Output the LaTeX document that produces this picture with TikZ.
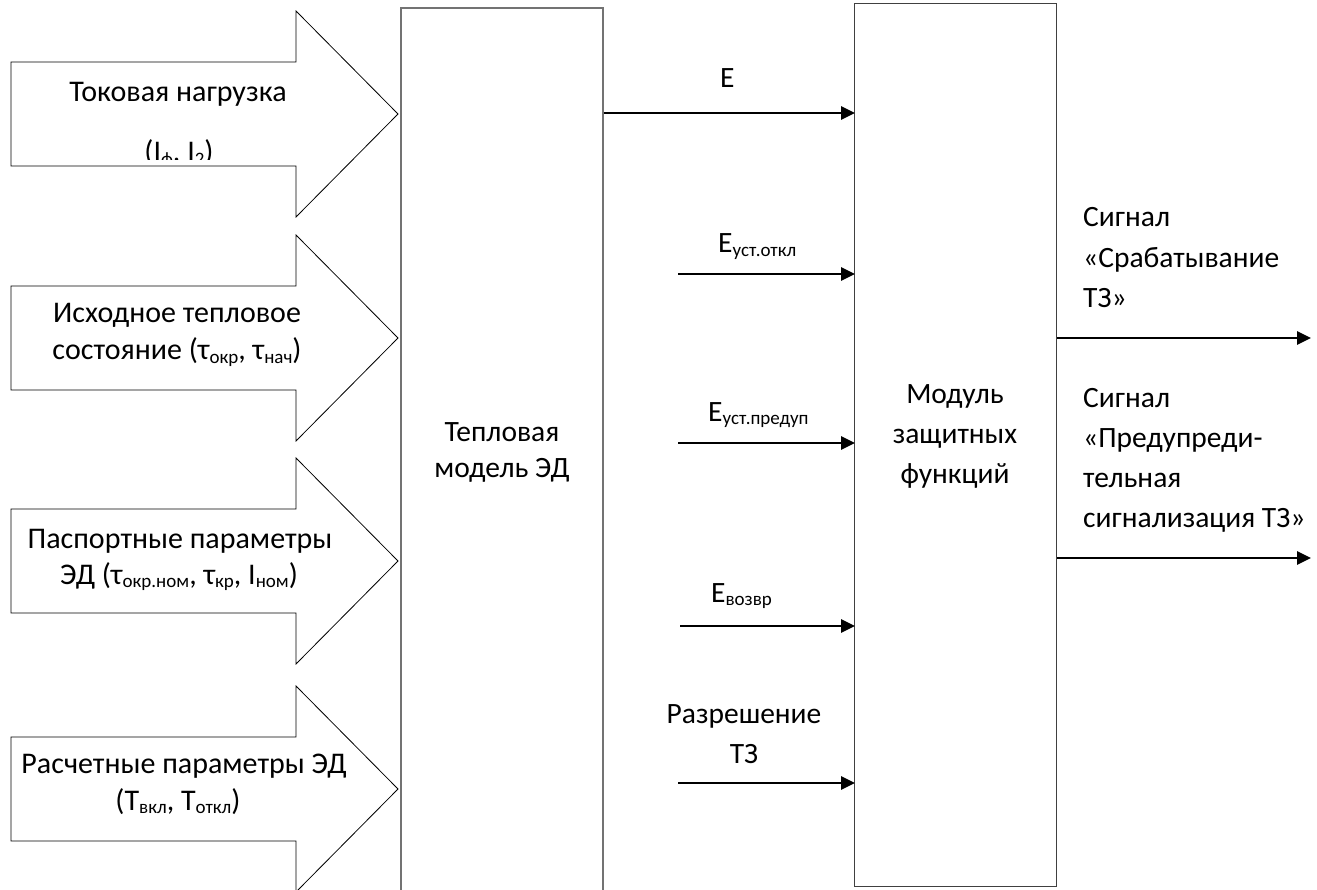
\documentclass[tikz,border=0pt]{standalone}
\usepackage{fontspec}
\setmainfont{Carlito}
\usetikzlibrary{arrows.meta}
\newcommand\lowsub[1]{\raisebox{-3.5pt}{\fontsize{19}{19}\selectfont #1}}
\tikzset{
  txt/.style={inner sep=0pt, anchor=base, font=\fontsize{29.5}{33}\selectfont},
  atxt/.style={txt, font=\fontsize{30}{34}\selectfont},
  txtw/.style={txt, anchor=base west},
  blockarrow/.style={draw=black, line width=0.8pt, fill=white},
  lbox/.style={draw=black!55, line width=1.6pt, anchor=north west, minimum width=202pt, minimum height=900pt, inner sep=0pt},
  rbox/.style={draw=black!75, line width=1pt, anchor=north west, minimum width=202pt, minimum height=883pt, inner sep=0pt},
  sig/.style={line width=2.6pt, -{Triangle[length=14pt,width=13pt]}, shorten >=-1pt}
}
\begin{document}
\begin{tikzpicture}[x=1pt,y=-1pt]
\clip (0,0) rectangle (1317,890);
\fill[white] (0,0) rectangle (1317,890);

% block arrows
\foreach \c/\n in {114/a1,338/a2,561/a3,789/a4}{
  \draw[blockarrow] (11,\c-52) -- (296,\c-52) -- (296,\c-103) -- (398,\c) coordinate (\n)
     -- (296,\c+103) -- (296,\c+52) -- (11,\c+52) -- cycle;
}

% boxes
\node[lbox] (tm) at (400,7) {};
\node[rbox] (mz) at (854,3) {};

% arrow texts
\node[atxt] (t1a) at (178,102) {Токовая нагрузка};
\begin{scope}
\clip (11,62) rectangle (296,159.5);
\node[atxt] (t1b) at (179,162) {(I\lowsub{ф}, I\lowsub{2})};
\end{scope}
\node[atxt] (t2a) at (177,323) {Исходное тепловое};
\node[atxt] (t2b) at (177,360) {состояние (τ\lowsub{окр}, τ\lowsub{нач})};
\node[atxt] (t3a) at (180,548) {Паспортные параметры};
\node[atxt] (t3b) at (179,584) {ЭД (τ\lowsub{окр.ном}, τ\lowsub{кр}, I\lowsub{ном})};
\node[atxt] (t4a) at (184,773) {Расчетные параметры ЭД};
\node[atxt] (t4b) at (178,810) {(T\lowsub{вкл}, T\lowsub{откл})};

% box texts
\node[txt] (tmA) at (502,441) {Тепловая};
\node[txt] (tmB) at (502,477) {модель ЭД};
\node[txt] (mzA) at (955,403) {Модуль};
\node[txt] (mzB) at (955,443) {защитных};
\node[txt] (mzC) at (955,483) {функций};

% input coordinates
\coordinate (s2) at (678,274);
\coordinate (s3) at (678,443);
\coordinate (s4) at (680,626);
\coordinate (s5) at (678,783);
\coordinate (o1) at (1310,338);
\coordinate (o2) at (1310,558);

% connectors
\draw[sig] (tm.east |- 0,113) -- (mz.west |- 0,113);
\draw[sig] (s2) -- (mz.west |- s2);
\draw[sig] (s3) -- (mz.west |- s3);
\draw[sig] (s4) -- (mz.west |- s4);
\draw[sig] (s5) -- (mz.west |- s5);
\draw[sig] (mz.east |- o1) -- (o1);
\draw[sig] (mz.east |- o2) -- (o2);

% connector labels
\node[txtw] (lE) at (720,88) {E};
\node[txtw] (lE2) at (718,253) {E\lowsub{уст.откл}};
\node[txtw] (lE3) at (708,421) {E\lowsub{уст.предуп}};
\node[txtw] (lE4) at (711,602) {E\lowsub{возвр}};
\node[txt] (lR1) at (744,723) {Разрешение};
\node[txt] (lR2) at (744,763) {ТЗ};

% output labels
\node[txtw] (o1a) at (1083,227) {Сигнал};
\node[txtw] (o1b) at (1083,268) {«Срабатывание};
\node[txtw] (o1c) at (1083,308) {ТЗ»};
\node[txtw] (o2a) at (1083,407) {Сигнал};
\node[txtw] (o2b) at (1083,447) {«Предупреди-};
\node[txtw] (o2c) at (1083,487) {тельная};
\node[txtw] (o2d) at (1083,527) {сигнализация ТЗ»};
\end{tikzpicture}
\end{document}
